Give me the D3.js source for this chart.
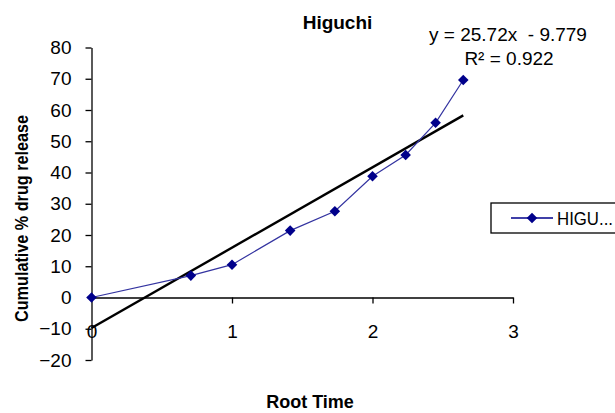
<!DOCTYPE html>
<html>
<head>
<meta charset="utf-8">
<script src="https://cdn.jsdelivr.net/npm/d3@7"></script>
<style>
body { margin: 0; background: #fff; }
text { font-family: "Liberation Sans", Arial, sans-serif; fill: #000; }
.axis path, .axis line { stroke: #000; stroke-width: 1.3; }
.axis text { font-size: 19px; }
</style>
</head>
<body>
<script>
// data: root time (sqrt of hours) and cumulative release
var rootTime = [0, 0.707, 1, 1.414, 1.732, 2, 2.236, 2.449, 2.646];
var release = [0, 7.0, 10.5, 21.4, 27.6, 38.8, 45.6, 55.9, 69.6];
var xTicks = [0, 1, 2, 3];
var yTicks = [-20, -10, 0, 10, 20, 30, 40, 50, 60, 70, 80];
var slope = 25.72, intercept = -9.779, rSquared = 0.922;
var seriesName = "HIGU...";

var width = 615, height = 413;

var svg = d3.select("body").append("svg")
  .attr("width", width)
  .attr("height", height);

// scales
var xScale = d3.scaleLinear().domain([0, 3]).range([91.5, 513]);
var yScale = d3.scaleLinear().domain([-20, 80]).range([360, 47.5]);

// y axis
svg.append("g")
  .attr("class", "axis")
  .attr("transform", "translate(" + xScale(0) + ",0)")
  .call(d3.axisLeft(yScale).tickValues(yTicks).tickSize(6).tickSizeOuter(0).tickPadding(14));

// x axis on the zero line
svg.append("g")
  .attr("class", "axis")
  .attr("transform", "translate(0," + yScale(0) + ")")
  .call(d3.axisBottom(xScale).tickValues(xTicks).tickFormat(d3.format("d")).tickSize(6).tickSizeOuter(0).tickPadding(21));

svg.selectAll(".axis .tick line").filter(function (d) { return d === 0; }).remove();
svg.selectAll(".axis text").attr("fill", "#000");

// trend line
var trendX = [0, d3.max(rootTime)];
svg.append("line")
  .attr("x1", xScale(trendX[0])).attr("y1", yScale(slope * trendX[0] + intercept))
  .attr("x2", xScale(trendX[1])).attr("y2", yScale(slope * trendX[1] + intercept))
  .attr("stroke", "#000")
  .attr("stroke-width", 2.4);

// data line
var line = d3.line()
  .x(function (d, i) { return xScale(rootTime[i]); })
  .y(function (d) { return yScale(d); });

svg.append("path")
  .datum(release)
  .attr("d", line)
  .attr("fill", "none")
  .attr("stroke", "#3333a0")
  .attr("stroke-width", 1.2);

// diamonds
var diamond = d3.symbol().type(d3.symbolSquare).size(56);
svg.selectAll(".dot")
  .data(release)
  .enter().append("path")
  .attr("class", "dot")
  .attr("d", diamond)
  .attr("fill", "#00008b")
  .attr("transform", function (d, i) { return "translate(" + xScale(rootTime[i]) + "," + yScale(d) + ") rotate(45)"; });

// title
svg.append("text")
  .attr("x", 337.5).attr("y", 29)
  .attr("text-anchor", "middle")
  .style("font-size", "19px").style("font-weight", "bold")
  .text("Higuchi");

// equation
svg.append("text")
  .attr("x", 508).attr("y", 41)
  .attr("text-anchor", "middle")
  .style("font-size", "19px")
  .attr("xml:space", "preserve")
  .text("y = " + slope + "x  - " + Math.abs(intercept));
svg.append("text")
  .attr("x", 509).attr("y", 65)
  .attr("text-anchor", "middle")
  .style("font-size", "19px")
  .text("R\u00b2 = " + rSquared);

// axis titles
svg.append("text")
  .attr("transform", "translate(28,218.5) rotate(-90)")
  .attr("text-anchor", "middle")
  .attr("textLength", 207).attr("lengthAdjust", "spacingAndGlyphs")
  .style("font-size", "19px").style("font-weight", "bold")
  .text("Cumulative % drug release");

svg.append("text")
  .attr("x", 310).attr("y", 408)
  .attr("text-anchor", "middle")
  .style("font-size", "18px").style("font-weight", "bold")
  .text("Root Time");

// legend
var legend = svg.append("g").attr("transform", "translate(491,203)");
legend.append("rect")
  .attr("width", 140).attr("height", 30)
  .attr("fill", "#fff").attr("stroke", "#000").attr("stroke-width", 1.3);
legend.append("line")
  .attr("x1", 20).attr("x2", 62).attr("y1", 15).attr("y2", 15)
  .attr("stroke", "#00008b").attr("stroke-width", 1.5);
legend.append("path")
  .attr("d", diamond)
  .attr("fill", "#00008b")
  .attr("transform", "translate(41,15) rotate(45)");
legend.append("text")
  .attr("x", 66).attr("y", 22)
  .attr("textLength", 56).attr("lengthAdjust", "spacingAndGlyphs")
  .style("font-size", "19px")
  .text(seriesName);
</script>
</body>
</html>
